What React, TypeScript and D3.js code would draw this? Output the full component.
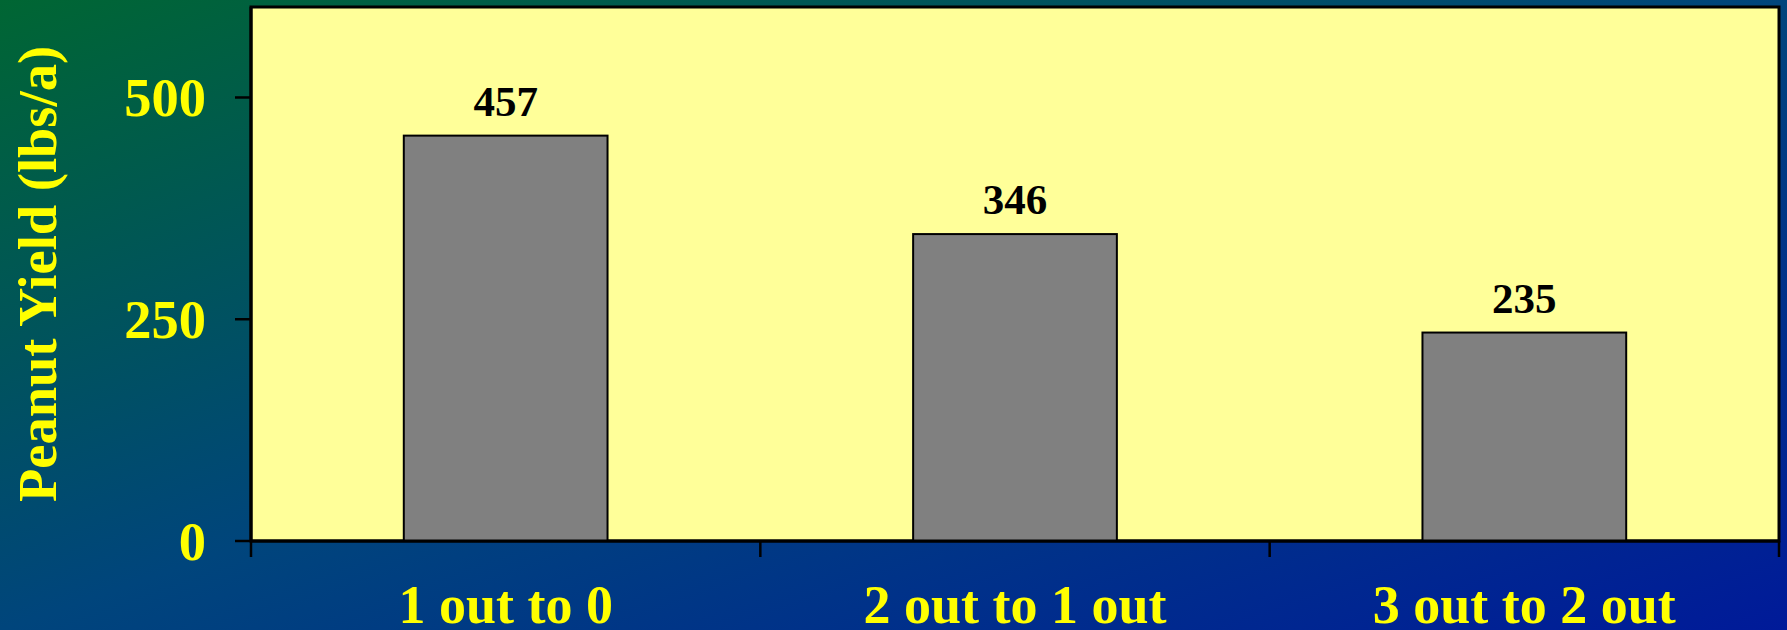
import * as d3 from 'd3';

const categories = ['1 out to 0', '2 out to 1 out', '3 out to 2 out'];
const yieldValues = [457, 346, 235];
const yTicks = [0, 250, 500];
const yTitle = 'Peanut Yield (lbs/a)';

const W = 1787;
const H = 630;
const plot = { left: 251, right: 1779, top: 7, bottom: 541 };
const FONT = '"Liberation Serif", "Times New Roman", serif';

export default function App() {
  const x = d3.scaleBand<string>()
    .domain(categories)
    .range([plot.left, plot.right])
    .paddingInner(0.6)
    .paddingOuter(0.3);
  const y = d3.scaleLinear().domain([0, 602]).range([plot.bottom, plot.top]);

  // category boundaries for the x ticks
  const step = x.step();
  const xTickPos = d3.range(categories.length + 1).map(i => plot.left + i * step);

  return (
    <div style={{ position: 'absolute', left: 0, top: 0 }}>
      <svg width={W} height={H} style={{ display: 'block' }}>
        <defs>
          <linearGradient id="bg" x1="0" y1="0" x2="1" y2="1">
            <stop offset="0" stopColor="#006633" />
            <stop offset="0.5" stopColor="#00457c" />
            <stop offset="1" stopColor="#001a99" />
          </linearGradient>
        </defs>
        <rect x={0} y={0} width={W} height={H} fill="url(#bg)" />

        <rect x={plot.left} y={plot.top} width={plot.right - plot.left} height={plot.bottom - plot.top}
          fill="#ffff99" stroke="#000" strokeWidth={3} />

        {categories.map((c, i) => (
          <g key={c}>
            <rect x={x(c)} y={y(yieldValues[i])} width={x.bandwidth()} height={y(0) - y(yieldValues[i])}
              fill="#808080" stroke="#000" strokeWidth={2} />
            <text x={x(c)! + x.bandwidth() / 2} y={y(yieldValues[i]) - 20} textAnchor="middle"
              fontFamily={FONT} fontWeight="bold" fontSize={43} fill="#000">{yieldValues[i]}</text>
            <text x={x(c)! + x.bandwidth() / 2} y={623} textAnchor="middle"
              fontFamily={FONT} fontWeight="bold" fontSize={54} fill="#ffff00">{c}</text>
          </g>
        ))}

        {/* axes */}
        <line x1={plot.left} x2={plot.right} y1={plot.bottom} y2={plot.bottom} stroke="#000" strokeWidth={3} />
        <line x1={plot.left} x2={plot.left} y1={plot.top} y2={plot.bottom} stroke="#000" strokeWidth={3} />
        {yTicks.map(t => (
          <g key={t}>
            <line x1={plot.left - 16} x2={plot.left} y1={y(t)} y2={y(t)} stroke="#000" strokeWidth={2.5} />
            <text x={206} y={y(t) + 18.5} textAnchor="end" fontFamily={FONT} fontWeight="bold"
              fontSize={54.5} fill="#ffff00">{t}</text>
          </g>
        ))}
        {xTickPos.map((p, i) => (
          <line key={i} x1={p} x2={p} y1={plot.bottom} y2={plot.bottom + 16} stroke="#000" strokeWidth={2.5} />
        ))}

        <text transform={`translate(56, ${(plot.top + plot.bottom) / 2}) rotate(-90)`} textAnchor="middle"
          fontFamily={FONT} fontWeight="bold" fontSize={54.5} fill="#ffff00">{yTitle}</text>
      </svg>
    </div>
  );
}
